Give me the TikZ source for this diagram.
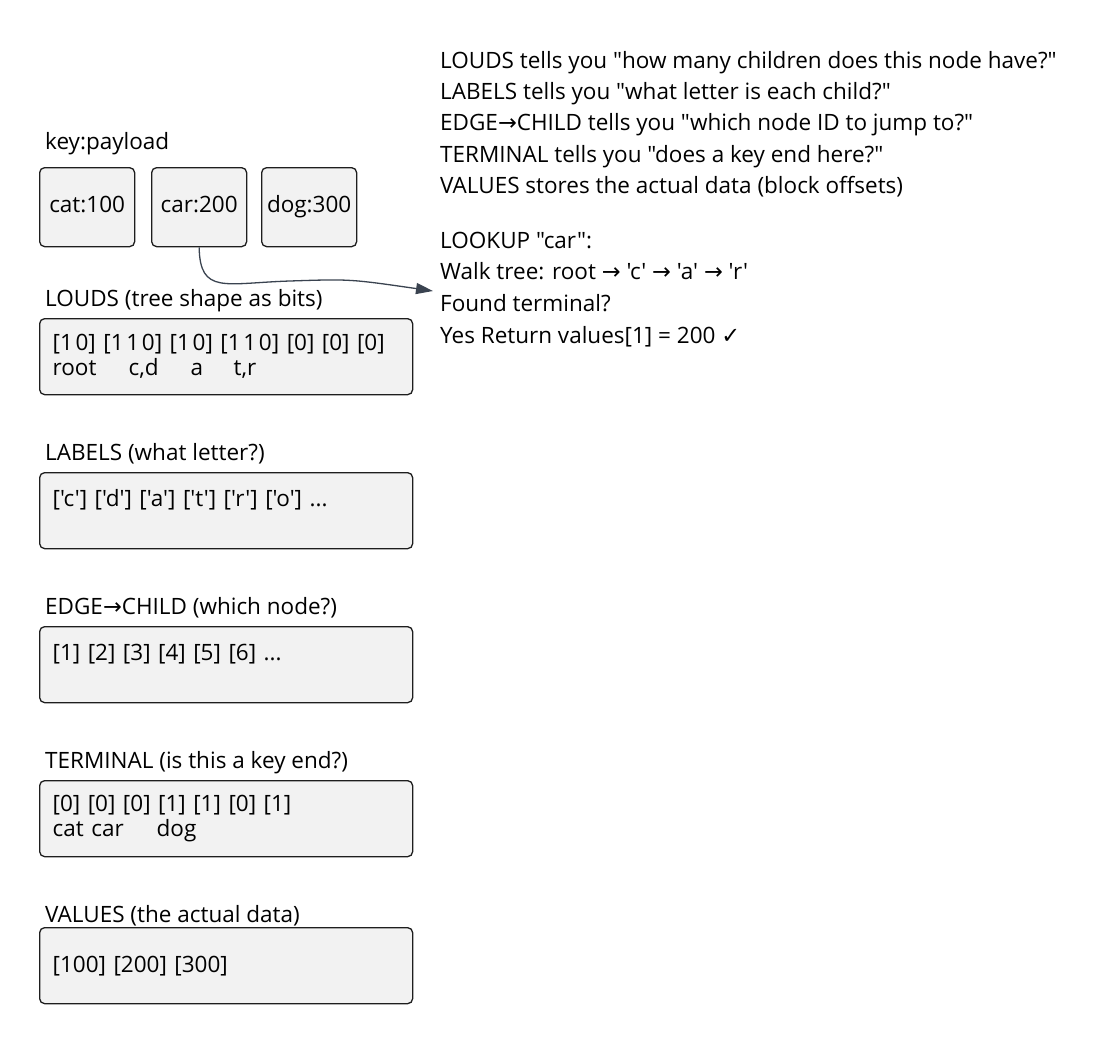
\documentclass[tikz,border=0pt]{standalone}
\usepackage{fontspec}
\newfontfamily\uifont{Open Sans}
\newfontfamily\symfont{DejaVu Sans}
\usetikzlibrary{arrows.meta}
\definecolor{boxfill}{HTML}{F2F2F2}
\definecolor{boxline}{HTML}{1E1E1E}
\definecolor{linkcol}{HTML}{3A4350}
\begin{document}
\begin{tikzpicture}[x=1pt,y=-1pt,font=\uifont\fontsize{22.5}{25}\selectfont]
\tikzset{
  box/.style={draw=boxline,fill=boxfill,rounded corners=5pt,line width=1.3pt,anchor=north west},
  kv/.style={box,inner sep=0pt,minimum width=95pt,minimum height=79pt,text height=15pt,text depth=4pt},
  wide/.style={box,inner xsep=13pt,inner ysep=0pt,text width=347pt,align=left,minimum height=76pt},
  txt/.style={anchor=base west,inner sep=0pt},
  link/.style={draw=linkcol,line width=1.3pt,-{Triangle[length=17pt,width=11pt]}}
}
\useasboundingbox (0,0) rectangle (1119,1045);
% keys and payloads
\node (kp) at (45,149) [txt] {key:payload};
\node (cat) at (39,167) [kv] {cat:100};
\node (car) at (151,167) [kv] {car:200};
\node (dog) at (261,167) [kv] {dog:300};
% the five arrays
\node (loudsT) at (45,306) [txt] {LOUDS (tree shape as bits)};
\node (louds) at (39,318) [wide] {[1\kern.12em0] [1\kern.12em1\kern.12em0] [1\kern.12em0] [1\kern.12em1\kern.12em0] [0] [0] [0]\\
  \makebox[76pt][l]{root}\makebox[62pt][l]{c,d}\makebox[43pt][l]{a}t,r};
\node (labelsT) at (45,460) [txt] {LABELS (what letter?)};
\node (labels) at (39,472) [wide] {['c'] ['d'] ['a'] ['t'] ['r'] ['o'] ...\\\mbox{}};
\node (edgeT) at (45,614) [txt] {EDGE{\symfont→}CHILD (which node?)};
\node (edge) at (39,626) [wide] {[1] [2] [3] [4] [5] [6] ...\\\mbox{}};
\node (termT) at (45,768) [txt] {TERMINAL (is this a key end?)};
\node (term) at (39,780) [wide] {[0] [0] [0] [1] [1] [0] [1]\\
  \makebox[104pt][l]{cat car}dog};
\node (valT) at (45,922) [txt] {VALUES (the actual data)};
\node (val) at (39,927) [wide] {[100] [200] [300]};
% notes
\node (n1) at (440,68) [txt] {LOUDS tells you "how many children does this node have?"};
\node (n2) at (440,99) [txt] {LABELS tells you "what letter is each child?"};
\node (n3) at (440,130) [txt] {EDGE{\symfont→}CHILD tells you "which node ID to jump to?"};
\node (n4) at (440,162) [txt] {TERMINAL tells you "does a key end here?"};
\node (n5) at (440,193) [txt] {VALUES stores the actual data (block offsets)};
\node (l1) at (440,248) [txt] {LOOKUP "car":};
\node (l2) at (440,279) [txt] {Walk tree: root {\symfont→} 'c' {\symfont→} 'a' {\symfont→} 'r'};
\node (l3) at (440,311) [txt] {Found terminal?};
\node (l4) at (440,343) [txt] {Yes Return values[1] = 200 {\symfont✓}};
\coordinate (hit) at (433,291);
\draw[link] (car.south) .. controls (200,295) and (225,283) .. (290,281) .. controls (350,279) .. (hit);
\end{tikzpicture}
\end{document}
